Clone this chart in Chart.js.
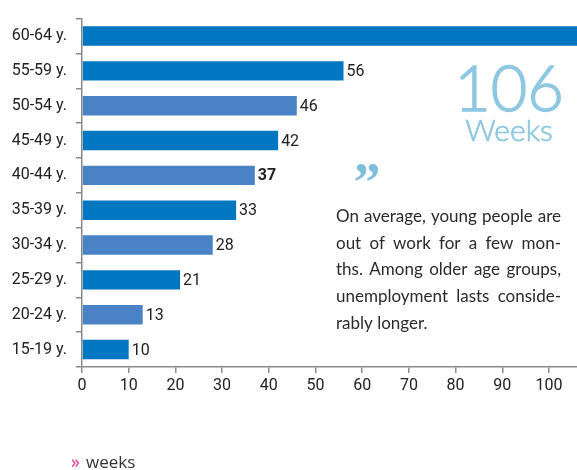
<!DOCTYPE html>
<html>
<head>
<meta charset="utf-8">
<script src="https://cdn.jsdelivr.net/npm/chart.js@4.4.1/dist/chart.umd.min.js"></script>
<style>
  html, body { margin: 0; padding: 0; background: #fff; }
  #wrap { width: 577px; height: 470px; position: relative; }
</style>
</head>
<body>
<div id="wrap"><canvas id="myChart"></canvas></div>
<script>
// age groups, top to bottom
const ageGroups = ['60-64 y.', '55-59 y.', '50-54 y.', '45-49 y.', '40-44 y.', '35-39 y.', '30-34 y.', '25-29 y.', '20-24 y.', '15-19 y.']
// average duration of unemployment in weeks
const weeks = [106, 56, 46, 42, 37, 33, 28, 21, 13, 10]
const xTicks = [0, 10, 20, 30, 40, 50, 60, 70, 80, 90, 100]

const darkBlue = '#0077c0'
const lightBlue = '#4a82c6'
// 50-54, 40-44, 30-34, 20-24 are the lighter bars
const lighter = ['50-54 y.', '40-44 y.', '30-34 y.', '20-24 y.']
const colors = ageGroups.map(g => lighter.includes(g) ? lightBlue : darkBlue)

const quoteLines = [
    'On average, young people are',
    'out of work for a few mon-',
    'ths. Among older age groups,',
    'unemployment lasts conside-',
    'rably longer.'
]

const labelFont = 'Roboto, "DejaVu Sans", sans-serif'

const extrasPlugin = {
    id: 'extras',
    afterDatasetsDraw(chart) {
        const ctx = chart.ctx
        const meta = chart.getDatasetMeta(0)
        ctx.save()
        // value labels next to bars (the first bar runs off the chart)
        ctx.textBaseline = 'middle'
        ctx.textAlign = 'left'
        meta.data.forEach((bar, i) => {
            if (i === 0) return
            ctx.font = (weeks[i] === 37 ? 'bold ' : '') + '16px ' + labelFont
            ctx.fillStyle = '#222'
            ctx.fillText(weeks[i], bar.x + 3, bar.y + 1)
        })

        // big number, light weight thickened a little
        ctx.fillStyle = '#8fc7e1'
        ctx.strokeStyle = '#8fc7e1'
        ctx.lineWidth = 1.3
        ctx.textAlign = 'center'
        ctx.textBaseline = 'alphabetic'
        ctx.font = '300 63px Lato, sans-serif'
        ctx.fillText('106', 509, 111)
        ctx.strokeText('106', 509, 111)
        ctx.font = '300 30px Lato, sans-serif'
        ctx.lineWidth = 0.7
        ctx.fillText('Weeks', 509, 141)
        ctx.strokeText('Weeks', 509, 141)

        // quote mark
        ctx.fillStyle = '#7fbddc'
        ctx.font = 'bold 54px "Liberation Serif", serif'
        ctx.fillText('\u201D', 367, 200)

        // justified paragraph
        ctx.fillStyle = '#2a2a2a'
        ctx.textAlign = 'left'
        ctx.font = '17px Lato, sans-serif'
        const left = 336, right = 561
        quoteLines.forEach((line, i) => {
            const y = 222 + i * 26.7
            const words = line.split(' ')
            if (i === quoteLines.length - 1 || words.length < 2) {
                ctx.fillText(line, left, y)
                return
            }
            const wordsW = words.reduce((s, w) => s + ctx.measureText(w).width, 0)
            const gap = Math.max(3, (right - left - wordsW) / (words.length - 1))
            let x = left
            words.forEach(w => {
                ctx.fillText(w, x, y)
                x += ctx.measureText(w).width + gap
            })
        })

        // axis unit
        ctx.font = '18px "Open Sans", sans-serif'
        ctx.fillStyle = '#e0309a'
        ctx.fillText('\u00BB', 71, 468)
        ctx.font = '17px "Open Sans", sans-serif'
        ctx.fillStyle = '#333'
        ctx.fillText('weeks', 86, 468)
        ctx.restore()
    }
}

const data = {
    labels: ageGroups,
    datasets: [{
        label: 'weeks',
        data: weeks,
        backgroundColor: colors,
        borderWidth: 0,
        barPercentage: 0.62,
        categoryPercentage: 0.9
    }]
}

const config = {
    type: 'bar',
    data: data,
    options: {
        indexAxis: 'y',
        responsive: true,
        maintainAspectRatio: false,
        animation: false,
        layout: { padding: { top: 12, left: 0, right: 0, bottom: 0 } },
        plugins: {
            legend: { display: false },
            tooltip: { enabled: false }
        },
        scales: {
            x: {
                min: 0,
                max: 106,
                ticks: {
                    stepSize: 10,
                    color: '#222',
                    padding: 3,
                    font: { family: labelFont, size: 16 }
                },
                afterBuildTicks: (scale) => {
                    scale.ticks = xTicks.map(v => ({ value: v }))
                },
                afterFit: (scale) => { scale.height = 103 },
                grid: {
                    drawOnChartArea: false,
                    drawTicks: true,
                    tickLength: 6,
                    color: '#8a8a8a',
                    lineWidth: 1.5
                },
                border: { color: '#8a8a8a', width: 1.5 }
            },
            y: {
                ticks: {
                    color: '#222',
                    padding: 9,
                    font: { family: labelFont, size: 16 }
                },
                afterFit: (scale) => { scale.width = 82 },
                grid: {
                    offset: true,
                    drawOnChartArea: false,
                    drawTicks: true,
                    tickLength: 6,
                    color: '#8a8a8a',
                    lineWidth: 1.5
                },
                border: { color: '#8a8a8a', width: 1.5 }
            }
        }
    },
    plugins: [extrasPlugin]
}

let chartCanvas = new Chart(document.querySelector('#myChart'), config)
</script>
</body>
</html>
